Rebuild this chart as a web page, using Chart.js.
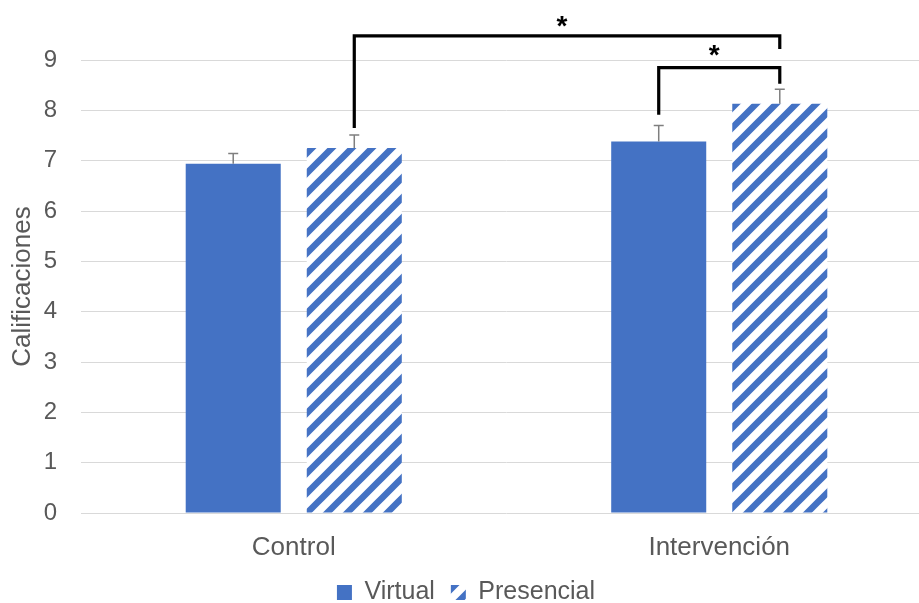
<!DOCTYPE html>
<html>
<head>
<meta charset="utf-8">
<script src="https://cdn.jsdelivr.net/npm/chart.js@4/dist/chart.umd.min.js"></script>
<style>
  html, body { margin: 0; padding: 0; background: #fff; overflow: hidden; }
  #wrap { width: 919px; height: 603px; overflow: hidden; }
  canvas { display: block; }
</style>
</head>
<body>
<div id="wrap"><canvas id="c" width="932" height="615"></canvas></div>
<script>
// Grades by group and modality
const categories = ['Control', 'Intervención'];
const seriesNames = ['Virtual', 'Presencial'];
const virtualMeans = [6.94, 7.38];
const presencialMeans = [7.25, 8.13];
const virtualErr = [0.20, 0.32];
const presencialErr = [0.26, 0.29];
const yTicks = [0, 1, 2, 3, 4, 5, 6, 7, 8, 9];

// Significance brackets: [dataset, index] of each end, bracket level, foot levels, star level
const sigFrom = [[1, 0], [0, 1]];
const sigTo = [[1, 1], [1, 1]];
const sigTop = [9.48, 8.85];
const sigFootFrom = [7.65, 7.91];
const sigFootTo = [9.22, 8.53];
const sigStar = [9.77, 9.18];
const sigText = ['*', '*'];

const BLUE = '#4472C4';
const TEXT = '#595959';
const FONT = "'Liberation Sans', Arial, sans-serif";

// Diagonal stripe fill for the second series
function hatch(color) {
  const s = 20;
  const c = document.createElement('canvas');
  c.width = c.height = s;
  const g = c.getContext('2d');
  g.fillStyle = '#ffffff';
  g.fillRect(0, 0, s, s);
  g.strokeStyle = color;
  g.lineWidth = 6.5;
  g.beginPath();
  g.moveTo(-s / 2, s / 2); g.lineTo(s / 2, -s / 2);
  g.moveTo(-1, s + 1); g.lineTo(s + 1, -1);
  g.moveTo(s / 2, s * 1.5); g.lineTo(s * 1.5, s / 2);
  g.stroke();
  return g.createPattern(c, 'repeat');
}

const errorBars = {
  id: 'errorBars',
  afterDatasetsDraw(chart) {
    const ctx = chart.ctx;
    const y = chart.scales.y;
    const errs = [virtualErr, presencialErr];
    ctx.save();
    ctx.strokeStyle = '#7f7f7f';
    ctx.lineWidth = 1.5;
    chart.data.datasets.forEach((ds, di) => {
      chart.getDatasetMeta(di).data.forEach((bar, i) => {
        const v = ds.data[i];
        const yTop = y.getPixelForValue(v + errs[di][i]);
        const yBar = y.getPixelForValue(v);
        ctx.beginPath();
        ctx.moveTo(bar.x, yBar);
        ctx.lineTo(bar.x, yTop);
        ctx.moveTo(bar.x - 5, yTop);
        ctx.lineTo(bar.x + 5, yTop);
        ctx.stroke();
      });
    });
    ctx.restore();
  }
};

const brackets = {
  id: 'brackets',
  afterDraw(chart) {
    const ctx = chart.ctx;
    const y = chart.scales.y;
    ctx.save();
    ctx.strokeStyle = '#000';
    ctx.fillStyle = '#000';
    ctx.lineWidth = 3.2;
    ctx.lineJoin = 'miter';
    ctx.lineCap = 'butt';
    ctx.font = 'bold 28px ' + FONT;
    ctx.textAlign = 'center';
    ctx.textBaseline = 'alphabetic';
    sigTop.forEach((top, k) => {
      const a = chart.getDatasetMeta(sigFrom[k][0]).data[sigFrom[k][1]];
      const b = chart.getDatasetMeta(sigTo[k][0]).data[sigTo[k][1]];
      const yt = y.getPixelForValue(top);
      ctx.beginPath();
      ctx.moveTo(a.x, y.getPixelForValue(sigFootFrom[k]));
      ctx.lineTo(a.x, yt);
      ctx.lineTo(b.x, yt);
      ctx.lineTo(b.x, y.getPixelForValue(sigFootTo[k]));
      ctx.stroke();
      const m = ctx.measureText(sigText[k]);
      const ys = y.getPixelForValue(sigStar[k]) + (m.actualBoundingBoxAscent - m.actualBoundingBoxDescent) / 2;
      ctx.fillText(sigText[k], (a.x + b.x) / 2 - 5, ys);
    });
    ctx.restore();
  }
};

new Chart(document.getElementById('c'), {
  type: 'bar',
  data: {
    labels: categories,
    datasets: [
      { label: seriesNames[0], data: virtualMeans, backgroundColor: BLUE, borderWidth: 0 },
      { label: seriesNames[1], data: presencialMeans, backgroundColor: hatch(BLUE), borderWidth: 0 }
    ]
  },
  options: {
    responsive: false,
    animation: false,
    devicePixelRatio: 1,
    categoryPercentage: 0.569,
    barPercentage: 0.785,
    layout: { padding: { top: 60, left: 0, right: 0, bottom: 0 } },
    plugins: {
      tooltip: { enabled: false },
      legend: {
        position: 'bottom',
        labels: {
          boxWidth: 15,
          boxHeight: 15,
          padding: 16,
          color: TEXT,
          font: { family: FONT, size: 25, lineHeight: 1.2 }
        }
      }
    },
    scales: {
      x: {
        grid: { display: false },
        border: { display: false },
        ticks: { color: TEXT, font: { family: FONT, size: 26, lineHeight: 1.2 }, padding: 11 },
        afterFit(s) { s.height = 51; }
      },
      y: {
        min: 0,
        max: 9,
        afterBuildTicks(s) { s.ticks = yTicks.map(v => ({ value: v })); },
        grid: { color: '#d9d9d9', lineWidth: 1, drawTicks: false },
        border: { display: false },
        ticks: { color: TEXT, font: { family: FONT, size: 24 }, padding: 24 },
        title: {
          display: true,
          text: 'Calificaciones',
          color: TEXT,
          font: { family: FONT, size: 26, lineHeight: 1.2 },
          padding: { top: 7, bottom: 0 }
        },
        afterFit(s) { s.width = 81; }
      }
    }
  },
  plugins: [errorBars, brackets]
});
</script>
</body>
</html>
